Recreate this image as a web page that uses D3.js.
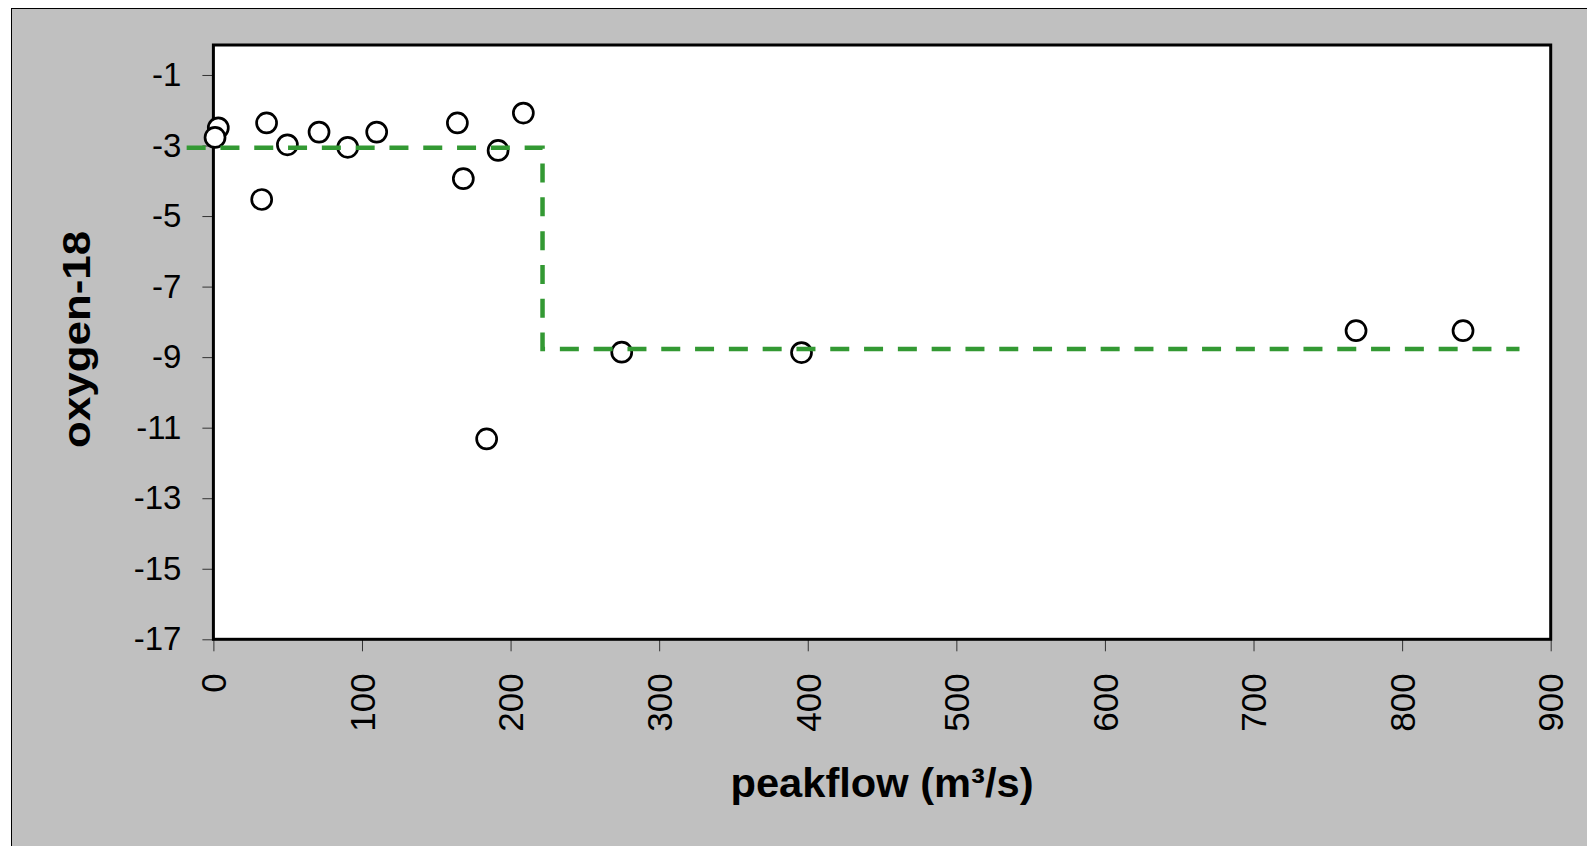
<!DOCTYPE html>
<html>
<head>
  <meta charset="utf-8">
  <script src="https://d3js.org/d3.v7.min.js"></script>
  <style>
    body { margin: 0; background: #fff; font-family: 'Liberation Sans', Arial, sans-serif; }
  </style>
</head>
<body>
  <div id="chart"></div>
  <script>
    // data
    var peakflow = [3.3, 1.1, 35.8, 32.5, 49.8, 71.1, 90.4, 109.9, 164.2, 168.2, 191.6, 208.6, 183.9, 274.8, 395.8, 769, 841];
    var oxygen18 = [-2.50, -2.77, -2.36, -4.53, -2.98, -2.62, -3.05, -2.62, -2.36, -3.94, -3.14, -2.08, -11.32, -8.86, -8.87, -8.25, -8.25];

    // dashed step line (group means)
    var stepFlow = [-18, 221.5, 221.5, 879];
    var stepO18 = [-3.06, -3.06, -8.77, -8.77];

    var xTicks = [0, 100, 200, 300, 400, 500, 600, 700, 800, 900];
    var yTicks = [-17, -15, -13, -11, -9, -7, -5, -3, -1];

    var W = 1587, H = 846;
    var margin = { top: 45, right: 36.3, bottom: 206.7, left: 213.4 },
      width = W - margin.left - margin.right,
      height = H - margin.top - margin.bottom;

    var svg = d3.select("#chart").append("svg")
      .attr("width", W)
      .attr("height", H);

    // grey chart area
    svg.append("rect")
      .attr("x", 11.5).attr("y", 8.5)
      .attr("width", W).attr("height", H)
      .attr("fill", "#c0c0c0")
      .attr("stroke", "#000")
      .attr("stroke-width", 1);

    var g = svg.append("g")
      .attr("transform", "translate(" + margin.left + "," + margin.top + ")");

    // plot area
    g.append("rect")
      .attr("width", width).attr("height", height)
      .attr("fill", "#fff");

    var x = d3.scaleLinear().domain([0, 900]).range([0, width]);
    var y = d3.scaleLinear().domain([-17, -0.15]).range([height, 0]);

    // plain hyphen for negatives, like the original
    var fmt = function (d) { return String(d); };

    // X axis
    var xAx = g.append("g")
      .attr("transform", "translate(0," + height + ")")
      .call(d3.axisBottom(x).tickValues(xTicks).tickSize(12).tickFormat(fmt));
    xAx.select(".domain").remove();
    xAx.selectAll("line").attr("stroke", "#333").attr("stroke-width", 1);
    xAx.selectAll("text")
      .attr("transform", "rotate(-90)")
      .attr("x", -34)
      .attr("y", 0)
      .attr("dy", "0.35em")
      .style("text-anchor", "end")
      .style("font-size", "35px")
      .style("font-family", "'Liberation Sans', Arial, sans-serif")
      .attr("fill", "#000");

    // Y axis
    var yAx = g.append("g")
      .call(d3.axisLeft(y).tickValues(yTicks).tickSize(11).tickPadding(21).tickFormat(fmt));
    yAx.select(".domain").remove();
    yAx.selectAll("line").attr("stroke", "#333").attr("stroke-width", 1);
    yAx.selectAll("text")
      .style("font-size", "33px")
      .style("font-family", "'Liberation Sans', Arial, sans-serif")
      .attr("fill", "#000");

    // plot border
    g.append("rect")
      .attr("width", width).attr("height", height)
      .attr("fill", "none")
      .attr("stroke", "#000")
      .attr("stroke-width", 3);

    // points
    g.selectAll("circle.pt")
      .data(peakflow)
      .enter()
      .append("circle")
      .attr("class", "pt")
      .attr("cx", function (d) { return x(d); })
      .attr("cy", function (d, i) { return y(oxygen18[i]); })
      .attr("r", 10)
      .attr("fill", "#fff")
      .attr("stroke", "#000")
      .attr("stroke-width", 2.7);

    // step line
    var line = d3.line()
      .x(function (d) { return x(d); })
      .y(function (d, i) { return y(stepO18[i]); });
    g.append("path")
      .datum(stepFlow)
      .attr("d", line)
      .attr("fill", "none")
      .attr("stroke", "#339933")
      .attr("stroke-width", 4.5)
      .attr("stroke-dasharray", "19,14.8");

    // axis titles
    svg.append("text")
      .attr("transform", "translate(90,339.4) rotate(-90)")
      .attr("text-anchor", "middle")
      .attr("textLength", 217)
      .attr("lengthAdjust", "spacingAndGlyphs")
      .style("font-size", "38px")
      .style("font-weight", "bold")
      .text("oxygen-18");

    svg.append("text")
      .attr("x", margin.left + width / 2)
      .attr("y", 797)
      .attr("text-anchor", "middle")
      .attr("textLength", 303)
      .attr("lengthAdjust", "spacingAndGlyphs")
      .style("font-size", "41px")
      .style("font-weight", "bold")
      .text("peakflow (m³/s)");
  </script>
</body>
</html>
